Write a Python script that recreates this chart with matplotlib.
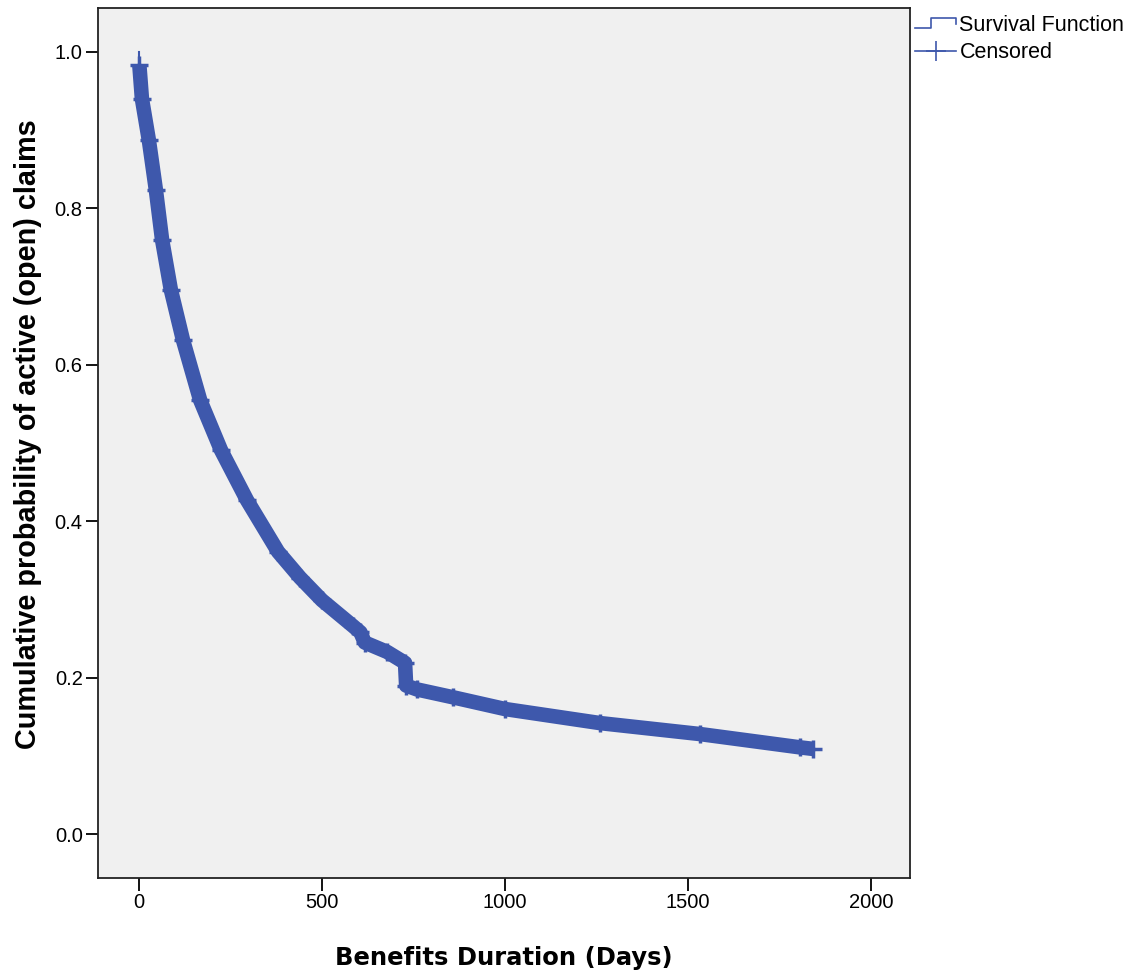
import matplotlib
matplotlib.use("Agg")
import matplotlib.pyplot as plt
from matplotlib.legend_handler import HandlerBase
from matplotlib.lines import Line2D

# Kaplan-Meier estimate (days, survival)
days = [0, 1, 8, 27, 46, 63, 87, 120, 167, 224, 295, 380, 440, 500,
        585, 605, 617, 678, 727, 730, 760, 858, 1000, 1260, 1533, 1806, 1842]
surv = [1.0, 0.983, 0.94, 0.887, 0.824, 0.76, 0.696, 0.632, 0.555, 0.491,
        0.427, 0.361, 0.328, 0.299, 0.266, 0.258, 0.245, 0.233, 0.219,
        0.19, 0.185, 0.175, 0.160, 0.142, 0.128, 0.111, 0.109]

x_ticks = [0, 500, 1000, 1500, 2000]
y_ticks = [0.0, 0.2, 0.4, 0.6, 0.8, 1.0]

blue = '#3e58ac'


class StepHandler(HandlerBase):
    def create_artists(self, legend, orig_handle, xdescent, ydescent,
                       width, height, fontsize, trans):
        w, h = width, height
        xs = [-xdescent, -xdescent + 0.38 * w, -xdescent + 0.38 * w, -xdescent + w, -xdescent + w]
        ys = [0.15 * h, 0.15 * h, 0.85 * h, 0.85 * h, 0.45 * h]
        ln = Line2D(xs, ys, color=orig_handle.get_color(), lw=1.2, transform=trans)
        return [ln]


fig = plt.figure(figsize=(11.37, 9.76), dpi=100)
ax = fig.add_axes([0.0862, 0.1004, 0.7142, 0.8914])
ax.set_facecolor('#f0f0f0')

ax.plot(days[1:], surv[1:], color=blue, lw=10.5, solid_capstyle='butt')
ax.plot(days[1:], surv[1:], ls='none', marker='+', color=blue, ms=13, mew=2.5)
ax.plot([days[0], days[0]], [surv[0], surv[1]], color=blue, lw=1.5)

ax.set_xlim(-112, 2107)
ax.set_ylim(-0.056, 1.056)
ax.set_xticks(x_ticks)
ax.set_yticks(y_ticks)
ax.set_yticklabels(['%.1f' % v for v in y_ticks])
ax.tick_params(direction='out', length=9, width=1.3, labelsize=14.5, pad=2,
               colors='#000000')
for sp in ax.spines.values():
    sp.set_linewidth(1.3)
    sp.set_color('#222222')
for lab in ax.get_xticklabels() + ax.get_yticklabels():
    lab.set_family('Liberation Sans')

ax.set_xlabel('Benefits Duration (Days)', fontsize=17.5, fontweight='bold',
              family='DejaVu Sans', labelpad=24)
ax.set_ylabel('Cumulative probability of active (open) claims', fontsize=20.8,
              fontweight='bold', family='Liberation Sans')
ax.yaxis.set_label_coords(-0.069, 0.51)

h1 = Line2D([], [], color=blue)
h2 = Line2D([], [], color=blue, lw=1.2, marker='+', ms=14, mew=1.2)
fig.legend([h1, h2], ['Survival Function', 'Censored'],
           handler_map={h1: StepHandler()},
           loc='upper left', bbox_to_anchor=(0.805, 0.985), frameon=False,
           prop={'family': 'Liberation Sans', 'size': 15.5}, handlelength=1.9,
           handletextpad=0.15, labelspacing=0.3, borderpad=0, borderaxespad=0,
           numpoints=1)

fig.savefig('out.png', dpi=100)
